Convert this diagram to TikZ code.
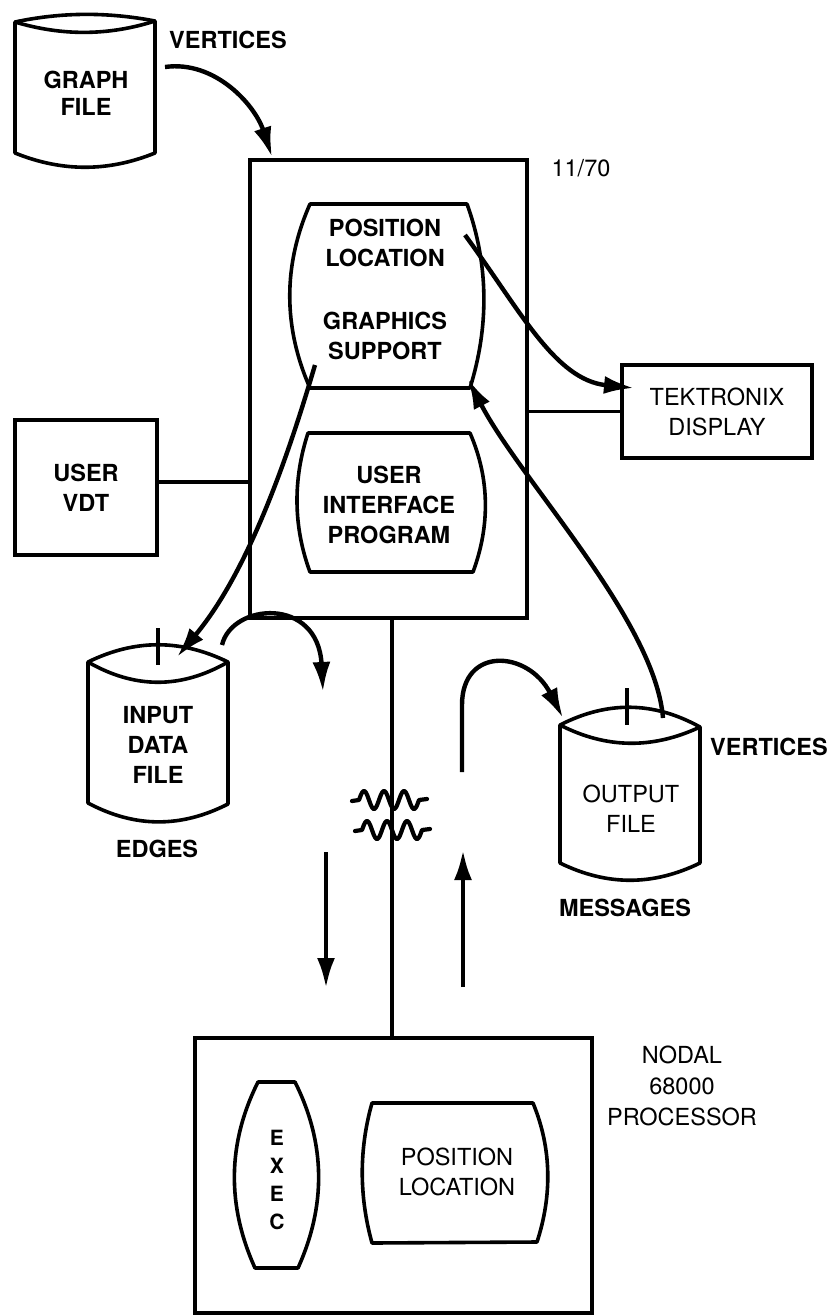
\documentclass[tikz,border=0pt]{standalone}
\usepackage{fontspec}
\setmainfont{TeX Gyre Heros}
\usetikzlibrary{arrows.meta}
\begin{document}
\begin{tikzpicture}[x=1pt,y=-1pt,
  lw/.style={line width=3.6pt, line join=round},
  box/.style={draw, line width=3.6pt, inner sep=0pt},
  txt/.style={font=\fontsize{23.5}{30}\selectfont\bfseries, align=center, inner sep=0pt},
  flow/.style={line width=4.4pt, -{Latex[length=30pt,width=18pt]}},
  wave/.style={line width=4.2pt, line cap=round, line join=round}
]
\useasboundingbox (0,0) rectangle (835,1315);

% ---- boxes
\node[box, minimum width=277pt, minimum height=458pt] (main) at (388.5,389) {};
\node[txt, font=\fontsize{23.5}{30}\selectfont] (m1170) at (581,168) {11/70};
\node[box, txt, font=\fontsize{23.5}{30}\selectfont, minimum width=190pt, minimum height=93pt] (tek) at (717,411.5) {TEKTRONIX\\DISPLAY};
\node[box, txt, minimum width=142pt, minimum height=135pt] (vdt) at (86,487.5) {USER\\VDT};
\node[box, minimum width=397pt, minimum height=275pt] (proc) at (393.5,1175.5) {};
\node[txt, font=\fontsize{23.5}{31}\selectfont] (nodal) at (682,1086) {NODAL\\68000\\PROCESSOR};

% ---- graph file cylinder
\draw[lw] (15,22) .. controls (62,12) and (108,12) .. (155,21) -- (155,153)
  .. controls (108,172) and (62,172) .. (15,153) -- cycle;
\draw[lw] (15,22) .. controls (62,36) and (108,36) .. (155,21);
\node[txt, font=\fontsize{23.5}{27}\selectfont\bfseries] (gf) at (86,93) {GRAPH\\FILE};
\node[txt] (vtop) at (228,40) {VERTICES};

% ---- input data file cylinder
\draw[lw] (88,662) .. controls (135,639) and (181,639) .. (228,662) -- (228,804)
  .. controls (181,828) and (135,828) .. (88,803) -- cycle;
\draw[lw] (88,662) .. controls (135,689) and (181,689) .. (228,662);
\draw[lw] (158,628) -- (158,665);
\node[txt] (idf) at (158,745) {INPUT\\DATA\\FILE};
\node[txt] (edges) at (157,849) {EDGES};

% ---- output file cylinder
\draw[lw] (560,725) .. controls (607,701) and (653,701) .. (700,727) -- (700,863)
  .. controls (653,886) and (607,886) .. (560,863) -- cycle;
\draw[lw] (560,725) .. controls (607,749) and (653,749) .. (700,727);
\draw[lw] (627,688) -- (627,725);
\node[txt, font=\fontsize{23.5}{30}\selectfont] (of) at (631,809) {OUTPUT\\FILE};
\node[txt] (vright) at (769,747) {VERTICES};
\node[txt] (msg) at (625,908) {MESSAGES};

% ---- program modules in 11/70
\draw[lw] (310,204) -- (467,204) .. controls (489,265) and (489,327) .. (470,388)
  -- (310,388) .. controls (283,327) and (283,265) .. (310,204) -- cycle;
\node[txt] (pl) at (385,243) {POSITION\\LOCATION};
\node[txt] (gs) at (385,336) {GRAPHICS\\SUPPORT};
\draw[lw] (308,433) -- (470,433) .. controls (490,479) and (490,526) .. (473,572)
  -- (310,572) .. controls (293,526) and (293,479) .. (308,433) -- cycle;
\node[txt] (ui) at (389,505) {USER\\INTERFACE\\PROGRAM};

% ---- modules in processor
\draw[lw] (258,1082) -- (295,1082) .. controls (326,1144) and (326,1206) .. (298,1268)
  -- (255,1268) .. controls (227,1206) and (227,1144) .. (258,1082) -- cycle;
\node[txt, font=\fontsize{21}{28}\selectfont\bfseries] (exec) at (277,1180) {E\\X\\E\\C};
\draw[lw] (372,1103) -- (533,1103) .. controls (552,1149) and (552,1196) .. (537,1242)
  -- (372,1243) .. controls (359,1196) and (359,1149) .. (372,1103) -- cycle;
\node[txt, font=\fontsize{23.5}{30}\selectfont] (ppl) at (457,1172) {POSITION\\LOCATION};

% ---- named connector ends
\coordinate (gfout) at (165,67);
\coordinate (mainin) at (272,157);
\coordinate (plout) at (465,235);
\coordinate (tekin) at (634,388);
\coordinate (ofout) at (663,718);
\coordinate (gsin) at (468,379);
\coordinate (gsout) at (315,365);
\coordinate (idfin) at (177,657);
\coordinate (idfout) at (222,645);
\coordinate (dnA) at (323,692);
\coordinate (dnB) at (326,852);
\coordinate (dnC) at (326,988);
\coordinate (upA) at (463,987);
\coordinate (upB) at (463,850);
\coordinate (arcA) at (462,772);
\coordinate (arcB) at (462,705);
\coordinate (ofin) at (563,718);
\coordinate (vdtline) at (0,482);
\coordinate (link) at (392,0);

% ---- connectors
\draw[lw] (tek.west) -- (tek.west -| main.east);
\draw[lw] (vdt.east |- vdtline) -- (main.west |- vdtline);
\draw[lw] (main.south -| link) -- (proc.north -| link);

\draw[flow] (gfout) .. controls (215,60) and (255,105) .. (mainin);
\draw[flow] (plout) .. controls (520,310) and (555,380) .. (tekin);
\draw[flow] (ofout) .. controls (655,620) and (520,480) .. (gsin);
\draw[flow] (gsout) .. controls (290,450) and (250,570) .. (idfin);
\draw[flow] (idfout) .. controls (232,603) and (318,596) .. (dnA);
\draw[flow] (dnB) -- (dnC);
\draw[flow] (upA) -- (upB);
\draw[flow] (arcA) -- (arcB) .. controls (462,646) and (528,650) .. (ofin);

% ---- break marks on the link
\draw[wave] (352,801) -- plot[domain=359:419, samples=61] (\x,{800-9*sin(18*(\x-359))}) -- (427,799);
\draw[wave] (355,831) -- plot[domain=362:422, samples=61] (\x,{830-9*sin(18*(\x-362))}) -- (430,829);
\end{tikzpicture}
\end{document}
